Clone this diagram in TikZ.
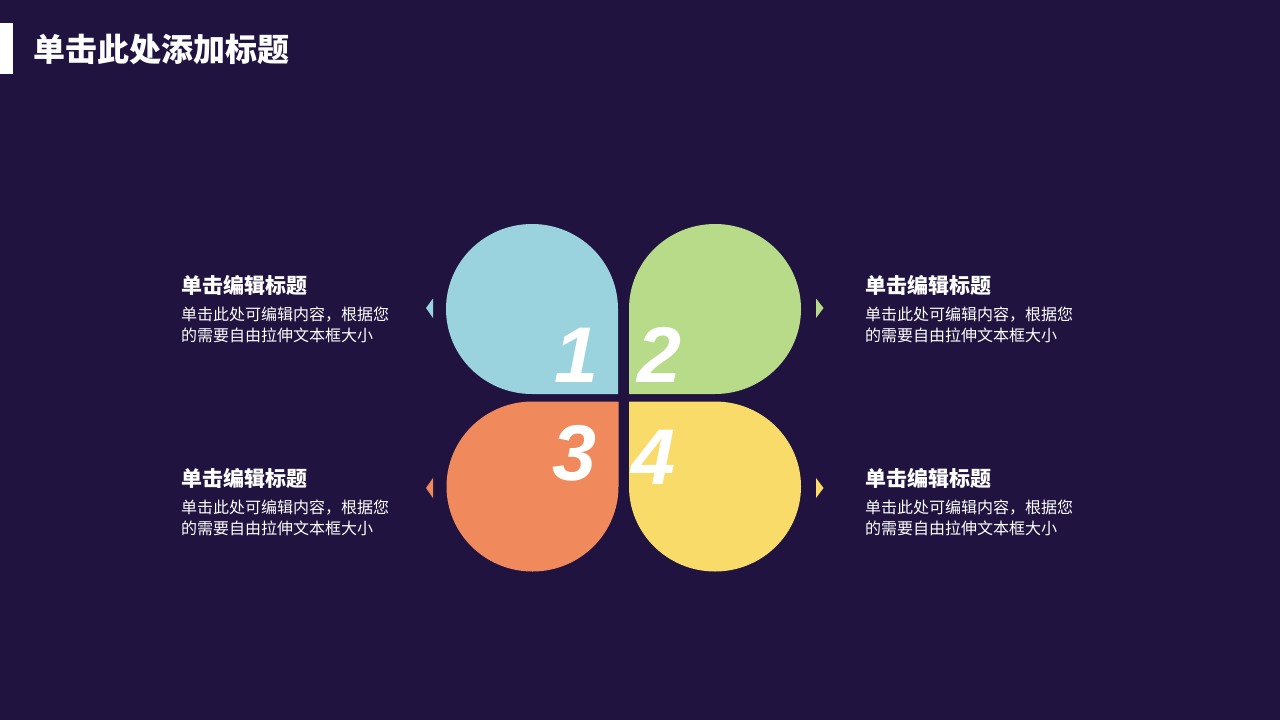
\documentclass[tikz,border=0pt]{standalone}
\usepackage{fontspec}
\newfontfamily\cjk{Noto Sans CJK SC}
\newfontfamily\numfont{Liberation Sans}
\definecolor{bg}{HTML}{201340}
\definecolor{cblue}{HTML}{9AD3DE}
\definecolor{cgreen}{HTML}{B7DB88}
\definecolor{corange}{HTML}{F08A5D}
\definecolor{cyellow}{HTML}{F8DB68}
\begin{document}
\begin{tikzpicture}[x=1pt,y=-1pt,
  head/.style={anchor=west,inner sep=0pt,text=white,font=\cjk\bfseries\fontsize{21}{21}\selectfont},
  body/.style={anchor=west,inner sep=0pt,text=white,font=\cjk\fontsize{16}{16}\selectfont},
  num/.style={anchor=base,inner sep=0pt,text=white,font=\numfont\bfseries\itshape\fontsize{79}{79}\selectfont},
  petal/.style={x radius=86,y radius=85}]
\fill[bg] (0,0) rectangle (1280,720);
\useasboundingbox (0,0) rectangle (1280,720);
% title bar
\fill[white] (0,23) rectangle (13,74);
\node[anchor=west,inner sep=0pt,text=white,font=\cjk\bfseries\fontsize{32}{32}\selectfont] (title) at (33,49) {单击此处添加标题};
% petals
\fill[cblue] (618,394) -- (618,309) arc[start angle=0,end angle=-270,petal] -- cycle;
\fill[cgreen] (629,394) -- (629,309) arc[start angle=180,end angle=450,petal] -- cycle;
\fill[corange] (618.5,401.5) -- (618.5,486.5) arc[start angle=0,end angle=270,petal] -- cycle;
\fill[cyellow] (629,401.5) -- (629,486.5) arc[start angle=180,end angle=-90,petal] -- cycle;
% numbers
\node[num] (n1) at (576,382) {1};
\node[num] (n2) at (659,382) {2};
\node[num] (n3) at (574,480) {3};
\node[num] (n4) at (653,484) {4};
% small triangles
\fill[cblue] (426,308) -- (433,298.5) -- (433,318) -- cycle;
\fill[cgreen] (823.5,308) -- (816,298.5) -- (816,318) -- cycle;
\fill[corange] (426,488) -- (433,478) -- (433,498) -- cycle;
\fill[cyellow] (823.5,488) -- (816,478) -- (816,498) -- cycle;
% texts
\node[head] (h1) at (181,285.5) {单击编辑标题};
\node[body] (b1a) at (181,315) {单击此处可编辑内容，根据您};
\node[body] (b1b) at (181,335) {的需要自由拉伸文本框大小};
\node[head] (h2) at (865,285.5) {单击编辑标题};
\node[body] (b2a) at (865,315) {单击此处可编辑内容，根据您};
\node[body] (b2b) at (865,335) {的需要自由拉伸文本框大小};
\node[head] (h3) at (181,478.5) {单击编辑标题};
\node[body] (b3a) at (181,508) {单击此处可编辑内容，根据您};
\node[body] (b3b) at (181,528) {的需要自由拉伸文本框大小};
\node[head] (h4) at (865,478.5) {单击编辑标题};
\node[body] (b4a) at (865,508) {单击此处可编辑内容，根据您};
\node[body] (b4b) at (865,528) {的需要自由拉伸文本框大小};
\end{tikzpicture}
\end{document}
